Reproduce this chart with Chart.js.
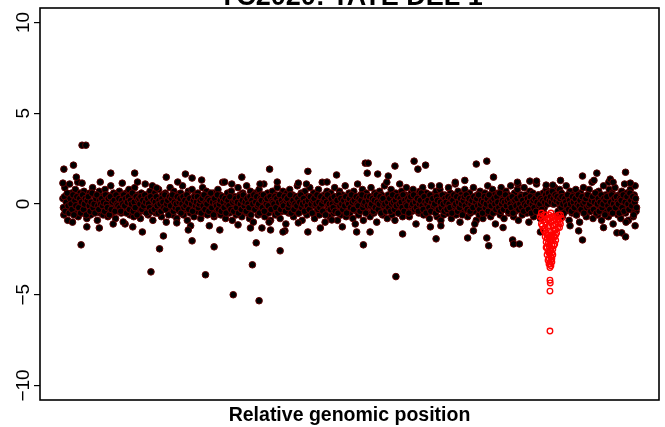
<!DOCTYPE html>
<html>
<head>
<meta charset="utf-8">
<script src="https://cdn.jsdelivr.net/npm/chart.js@4.4.0/dist/chart.umd.min.js"></script>
<style>
html,body{margin:0;padding:0;background:#fff;}
canvas{display:block;}
</style>
</head>
<body>
<canvas id="c" width="665" height="427"></canvas>
<script>
// ---- DATA ----
const chartTitle = 'YC2020: TATE DEL 1';
const xAxisLabel = 'Relative genomic position';
const yTicks = [-10, -5, 0, 5, 10];
const yTickLabels = ['\u221210', '\u22125', '0', '5', '10'];
const yRange = [-10, 10];

// log-ratio of probes in genomic order (position = probe index)
const bandVals = [
 0.3,-0.6,0.9,-0.2,0.5,-0.9,0.1,1.1,-0.4,0.6,-1.0,0.2,-0.5,0.8,-0.1,0.4,-0.7,0.0,0.6,-0.3,
 0.2,-0.5,0.7,-0.1,0.4,-0.8,0.3,-0.3,0.6,-0.6,0.1,0.9,-0.2,0.5,-0.4,0.0,-0.9,0.3,0.7,-0.5,
 -0.1,0.4,-0.6,0.2,0.8,-0.3,0.5,-0.7,0.1,-0.2,1.0,-0.5,0.3,0.6,-0.1,-0.8,0.2,0.4,-0.4,0.7,
 0.0,-0.5,0.5,-0.2,0.3,-1.1,0.6,0.1,-0.4,0.8,-0.6,0.2,-0.1,0.4,-0.7,0.9,0.0,-0.3,0.5,-0.5,
 0.2,-0.8,0.6,-0.1,0.3,-0.4,1.1,-0.2,0.5,-0.6,0.1,0.7,-0.3,0.4,-0.9,0.0,0.6,-0.5,0.2,-0.1,
 0.8,-0.4,0.3,-0.7,0.5,0.1,-0.2,0.6,-1.0,0.4,-0.3,0.2,0.9,-0.5,0.0,-0.6,0.7,0.3,-0.1,-0.8,
 0.5,0.2,-0.4,0.6,-0.2,1.0,-0.6,0.1,0.4,-0.3,-0.9,0.7,0.0,-0.5,0.3,0.8,-0.1,-0.7,0.5,0.2,
 -0.4,0.6,-0.2,0.3,-0.8,0.1,0.9,-0.5,0.4,-0.1,0.7,-0.6,0.2,-1.2,0.5,0.0,-0.3,0.6,-0.7,0.3,
 0.1,-0.4,0.8,-0.2,0.5,-0.6,0.0,1.2,-0.3,0.4,-0.8,0.2,0.6,-0.1,-0.5,0.3,0.7,-0.9,0.1,-0.2,
 0.4,-0.6,0.2,0.9,-0.3,0.5,-0.1,-0.7,0.6,0.0,-0.4,0.3,1.0,-0.5,0.2,-0.8,0.7,-0.2,0.4,-1.0,
 0.0,0.6,-0.3,0.3,-0.6,0.8,-0.1,0.5,-0.4,0.1,1.1,-0.7,0.2,-0.2,0.6,-0.5,0.4,-0.9,0.0,0.7,
 -0.3,0.2,-0.6,0.5,0.9,-0.1,0.4,-0.8,0.1,-0.4,0.7,-0.2,0.3,-1.1,0.6,0.0,-0.5,0.8,-0.3,0.2,
 0.5,-0.7,0.1,0.4,-0.2,1.0,-0.5,0.3,-0.1,0.6,-0.9,0.2,-0.4,0.7,0.0,-0.6,0.4,-0.3,0.9,-0.1,
 0.3,-0.5,0.6,-0.8,0.2,0.0,-0.3,0.8,-0.6,0.4,-0.1,1.2,-0.4,0.5,-1.0,0.1,0.7,-0.2,0.3,-0.7,
 0.6,-0.2,0.1,-0.5,0.9,-0.3,0.4,-0.9,0.2,0.7,-0.1,-0.6,0.5,0.0,-0.4,1.0,-0.7,0.3,-0.2,0.6,
 -0.5,0.4,0.1,-0.8,0.7,-0.2,0.3,-0.4,1.1,-0.6,0.0,0.5,-0.1,0.8,-0.9,0.2,-0.3,0.6,-0.5,0.4,
 0.1,-0.7,0.9,-0.2,0.4,-0.5,0.6,0.0,-1.0,0.3,-0.3,0.7,-0.1,0.5,-0.6,0.2,1.0,-0.4,0.1,-0.8,
 0.5,0.2,-0.3,0.8,-0.6,0.0,0.4,-0.9,0.6,-0.1,0.3,-0.5,1.1,-0.2,0.7,-0.7,0.1,-0.4,0.5,0.9,
 -0.2,0.4,-0.7,0.1,0.6,-0.4,0.8,-0.1,0.3,-1.1,0.5,0.0,-0.5,0.7,-0.3,0.2,0.9,-0.6,0.4,-0.2,
 0.6,-0.5,0.2,-0.8,0.3,1.0,-0.1,0.5,-0.4,0.0,0.7,-0.7,0.1,-0.3,0.8,-0.9,0.4,0.2,-0.6,0.5,
 -0.1,0.3,-0.5,0.9,-0.2,0.6,-0.8,0.1,0.4,-0.3,1.1,-0.6,0.2,0.7,-0.1,-1.0,0.5,0.0,-0.4,0.3,
 0.8,-0.2,0.4,-0.7,0.1,0.6,-0.5,0.3,-0.1,0.9,-0.4,0.2,-0.9,0.5,0.0,-0.6,0.7,-0.3,0.4,-0.8,
 0.2,0.6,-0.1,-0.5,1.0,-0.3,0.4,-0.7,0.1,0.8,-0.2,0.5,-1.1,0.3,-0.4,0.6,0.0,-0.6,0.9,-0.2,
 0.4,-0.8,0.1,0.7,-0.3,0.5,-0.5,0.2,1.0,-0.1,0.3,-0.7,0.6,-0.4,0.0,0.8,-0.9,0.2,-0.2,0.5,
 -0.6,0.3,0.9,-0.1,0.4,-0.5,0.1,-1.0,0.7,-0.3,0.2,0.6,-0.7,0.4,-0.2,1.1,-0.4,0.0,0.5,-0.8,
 0.3,-0.5,0.6,-0.2,0.4,0.8,0.2,0.6,0.1,0.5,0.3,0.7,0.0,0.4,0.9,0.2,0.5,-0.6,0.3,0.8,
 -0.2,0.6,-0.7,0.1,0.4,-0.4,1.0,-0.1,0.3,-0.9,0.7,0.0,-0.5,0.5,0.2,-0.3,0.8,-0.6,0.1,0.4,
 -1.0,0.6,-0.2,0.3,0.9,-0.5,0.1,-0.7,0.5,-0.1,0.8,-0.4,0.2,1.2,-0.8,0.4,-0.3,0.6,0.0,-0.6,
 0.7,-0.2,0.4,-0.9,0.2,1.0,-0.4,0.5,-0.1,0.3,-0.7,0.8,0.0,-0.5,0.6,-1.1,0.2,0.9,-0.3,0.4,
 -0.6,0.5,0.1,-0.8,0.7,-0.2,0.3,1.1,-0.5,0.6,-0.1,-0.9,0.4,0.8,-0.3,0.2,-0.7,0.5,1.0,-0.4
];

// interleaved probes (position = probe index + 0.5)
const bandVals2 = [
 -0.2,0.4,-0.4,0.1,0.6,-0.1,-0.5,0.3,0.0,-0.3,0.5,-0.6,0.2,-0.1,0.4,1.2,-0.2,0.3,-0.5,0.1,
 0.5,-0.3,0.0,0.3,-0.6,0.2,0.4,-0.1,-0.4,0.1,0.6,-0.2,0.0,-0.5,0.3,0.5,-0.1,-0.3,0.2,0.0,
 0.3,-0.1,0.1,-0.4,0.5,0.0,-0.2,0.3,-0.6,0.4,-0.3,0.1,-1.1,0.2,-0.4,0.5,0.0,-0.1,0.3,-0.2,
 -0.4,0.2,0.0,0.5,-0.1,0.3,-0.5,0.1,0.4,-0.3,0.2,0.0,0.6,-0.4,0.1,-0.2,0.4,-0.6,0.2,0.3,
 0.0,0.4,-0.3,0.2,-0.1,0.5,0.1,-0.5,0.3,0.0,-0.2,0.4,-0.4,1.0,0.2,-0.3,0.1,0.4,-0.1,-0.5,
 0.2,0.0,-0.4,0.3,0.1,-0.2,0.5,-0.3,0.0,0.2,-0.6,0.4,-0.1,0.3,0.5,-0.4,0.1,-0.2,0.0,0.4,
 -0.3,0.1,0.3,-0.5,0.0,0.4,-0.2,0.2,-0.1,0.5,0.1,-0.3,0.3,-1.2,0.0,-0.4,0.2,0.4,-0.1,0.1,
 0.4,-0.2,0.0,0.2,-0.5,0.3,-0.1,0.5,-0.3,0.1,0.0,0.3,-0.4,0.2,0.6,-0.2,0.1,-0.6,0.3,0.0,
 -0.1,0.5,-0.3,0.0,0.2,-0.4,0.4,0.1,-0.2,0.3,-0.5,0.0,0.2,-0.1,0.4,-0.3,1.1,0.1,-0.4,0.2,
 0.3,-0.2,0.1,-0.5,0.4,0.0,-0.3,0.2,0.5,-0.1,0.1,-0.4,0.3,0.0,-0.2,0.4,-0.6,0.2,0.0,0.5,
 -0.3,0.1,0.4,-0.1,0.0,-0.5,0.3,0.2,-0.2,0.5,-0.4,0.1,0.0,0.3,-0.1,-1.0,0.4,-0.3,0.2,0.1,
 0.0,0.4,-0.2,0.3,-0.5,0.1,0.5,-0.3,0.2,0.0,-0.1,0.4,-0.4,0.2,0.3,-0.2,0.0,0.5,-0.5,0.1,
 0.2,-0.3,0.0,0.4,-0.1,0.3,-0.5,0.1,0.5,-0.2,0.0,0.3,-0.4,0.1,1.1,-0.1,0.2,-0.3,0.4,0.0,
 -0.5,0.2,0.3,-0.1,0.0,0.5,-0.3,0.1,-0.2,0.4,0.0,-0.4,0.2,0.3,-0.6,0.1,0.5,-0.1,0.0,-0.3,
 0.3,0.0,-0.2,0.4,-0.4,0.1,0.2,-0.5,0.5,-0.1,0.3,0.0,-0.3,0.2,-0.1,0.4,-0.5,0.1,0.0,0.3,
 -0.2,0.5,0.1,-0.3,0.2,-1.1,0.4,0.0,-0.1,0.3,-0.4,0.2,0.5,-0.2,0.0,0.1,-0.5,0.4,-0.1,0.2,
 0.4,-0.1,0.0,0.3,-0.4,0.2,-0.2,0.5,0.1,-0.3,0.0,0.4,-0.5,0.2,0.3,-0.1,0.0,-0.4,1.2,0.1,
 -0.2,0.3,-0.4,0.0,0.5,0.1,-0.3,0.2,-0.1,0.4,-0.5,0.0,0.3,0.1,-0.2,0.5,-0.4,0.2,0.0,-0.1,
 0.3,-0.5,0.2,0.4,-0.1,0.0,0.5,-0.3,0.1,-0.2,0.3,-0.4,0.0,0.2,0.6,-0.1,-0.3,0.4,0.1,-0.5,
 0.0,0.2,-0.2,0.5,-0.4,0.1,0.3,-0.1,0.0,-0.5,0.4,0.2,-0.3,1.0,0.1,-0.2,0.5,0.0,-0.4,0.3,
 0.1,-0.3,0.4,0.0,-0.2,0.3,-0.5,0.2,0.5,-0.1,0.0,0.4,-0.4,0.1,-0.2,0.3,0.0,-0.6,0.2,0.4,
 -0.1,0.5,-0.3,0.1,0.3,-0.4,0.0,0.2,-0.2,0.4,-1.1,0.1,0.3,-0.1,0.5,-0.3,0.0,0.2,-0.5,0.1,
 0.4,-0.2,0.0,0.3,-0.4,0.5,0.1,-0.1,0.2,-0.5,0.3,0.0,-0.3,0.4,0.1,-0.2,0.6,-0.4,0.0,0.2,
 -0.3,0.1,0.5,-0.1,0.2,-0.4,0.3,0.0,-0.2,0.4,-0.5,0.1,0.2,-0.1,0.3,1.1,-0.3,0.0,0.4,-0.2,
 0.2,-0.4,0.0,0.5,-0.1,0.3,-0.3,0.1,0.4,-0.5,0.0,0.2,-0.2,0.3,-0.4,0.1,0.5,-0.1,0.0,0.3,
 -0.3,0.2,-0.5,0.1,0.5,0.3,0.0,0.6,0.2,0.4,0.1,0.7,0.3,0.0,0.5,0.2,0.4,-0.4,0.1,0.3,
 -0.2,0.4,0.0,-0.5,0.3,0.1,-0.1,0.5,-0.3,0.2,0.0,-0.4,0.4,0.1,-0.2,0.3,-0.6,0.0,0.5,-0.1,
 0.2,-0.3,0.4,0.0,-0.5,0.1,0.3,-0.2,0.5,-0.1,0.0,-0.4,0.2,0.4,-0.3,0.1,0.6,-0.5,0.0,0.3,
 -0.4,0.1,0.5,-0.2,0.0,0.3,-0.6,0.2,0.4,-0.1,1.2,-0.3,0.1,0.5,-0.5,0.0,0.3,-0.2,0.4,0.1,
 0.0,-0.5,0.3,0.2,-0.2,0.5,-0.4,0.1,-1.0,0.4,0.0,-0.3,0.6,0.2,-0.1,0.4,-0.6,0.1,0.3,-0.2
];

// outlying (non-deleted) probes: position and value
const outPos = [1,11,14,20,24,50,75,108,128,145,216,256,286,316,319,318,329,340,347,367,
 371,379,432,443,450,488,495,505,512,520,543,558,572,588,593,
 19,92,101,105,135,149,158,178,198,202,205,227,232,256,292,307,314,321,348,355,
 384,390,423,429,443,445,470,471,477,499,539,543,579,584,588,
 25,38,63,73,83,119,131,164,183,196,208,217,230,246,269,281,
 0,20,39,62,78,98,120,135,169,187,206,224,246,276,
 395,410,420,460,475,530,555,565,575,598];
const outVals = [1.92,2.14,1.48,3.24,3.24,1.7,1.7,1.48,1.65,1.32,1.92,1.8,1.6,2.25,2.25,1.7,1.65,1.54,2.09,2.36,
 1.92,2.14,2.2,2.36,1.48,1.26,1.26,1.04,1.04,1.3,1.54,1.7,1.37,1.75,1.15,
 -2.25,-3.74,-2.47,-1.76,-2.03,-3.9,-2.36,-5.0,-3.35,-2.14,-5.33,-2.58,-1.48,-1.54,-1.26,-1.54,-2.25,-1.54,-4.0,-1.65,
 -1.26,-1.92,-1.87,-1.48,-1.87,-2.3,-1.98,-2.2,-2.2,-1.54,-1.48,-1.98,-1.59,-1.59,-1.81,
 -1.26,-1.32,-0.99,-1.26,-1.54,-1.04,-1.43,-1.43,-1.15,-1.32,-1.32,-1.43,-1.54,-1.04,-1.32,-0.88,
 1.15,1.15,1.21,1.15,1.21,0.88,1.21,1.43,1.21,1.48,1.1,1.21,1.15,1.21,
 -1.2,1.2,1.3,-1.3,1.2,-1.2,1.3,-1.3,1.2,-1.2];

// probes inside the deleted region (drawn red)
const delPos = [499,500,501,502,503,504,505,506,507,508,509,510,511,512,513,514,515,516,517,518,519,520,521,
 501,503,506,508,511,514,516,518,505,510,513,500,502,504,507,509,512,515,517,519,520,
 504,505,506,507,508,509,510,511,512,513,514,515,508,510,512,515,507,509,511,505,506,513,514,510,
 506,507,508,509,510,511,512,509,508,510,507,511,508,509,510,511,
 509,509.3,509,509];
const delVals = [-0.7,-1.1,-0.8,-1.4,-0.6,-1.0,-1.6,-0.8,-1.3,-0.6,-1.5,-1.0,-0.7,-1.2,-1.5,-0.8,-1.1,-0.7,-1.3,-0.9,-1.0,-0.6,-0.8,
 -1.2,-1.5,-1.9,-1.2,-1.8,-1.4,-1.6,-0.6,-0.6,-0.5,-0.9,-0.5,-0.9,-1.3,-0.9,-0.8,-0.7,-1.4,-1.0,-1.3,-1.1,
 -1.8,-2.1,-2.4,-2.2,-1.9,-2.6,-2.0,-2.3,-2.5,-1.8,-2.2,-2.0,-2.3,-2.5,-2.0,-1.7,-1.7,-2.1,-1.9,-2.4,-1.7,-2.3,-1.8,-1.7,
 -2.8,-3.1,-2.7,-3.3,-2.9,-3.2,-2.8,-3.5,-3.0,-3.4,-2.6,-2.7,-3.3,-2.7,-3.1,-3.0,
 -4.2,-4.35,-4.8,-7.0];

// ---- CHART ----
const FONT = "'Liberation Sans', Arial, Helvetica, sans-serif";
const span = bandVals.length - 1;
const ySpan = yRange[1] - yRange[0];

const bandData = bandVals.map((v, i) => ({x: i, y: v}))
  .concat(bandVals2.map((v, i) => ({x: i + 0.5, y: v})));
const outData = outPos.map((p, i) => ({x: p, y: outVals[i]}));
const delData = delPos.map((p, i) => ({x: p, y: delVals[i]}));

const blackPt = {
  pointRadius: 3.3, pointBorderWidth: 1,
  pointBackgroundColor: '#000', pointBorderColor: 'rgb(95,0,0)',
  showLine: false
};

const decor = {
  id: 'decor',
  beforeDraw(chart) {
    const ctx = chart.ctx;
    ctx.save();
    ctx.fillStyle = '#fff';
    ctx.fillRect(0, 0, chart.width, chart.height);
    ctx.restore();
  },
  afterDraw(chart) {
    const ctx = chart.ctx;
    const a = chart.chartArea;
    const ys = chart.scales.y;
    ctx.save();
    ctx.strokeStyle = '#000';
    ctx.lineWidth = 1.6;
    ctx.strokeRect(a.left, a.top, a.right - a.left, a.bottom - a.top);
    ctx.fillStyle = '#000';
    ctx.font = "19px " + FONT;
    ctx.textAlign = 'center';
    ctx.textBaseline = 'alphabetic';
    yTicks.forEach((v, i) => {
      const py = ys.getPixelForValue(v);
      ctx.save();
      ctx.translate(a.left - 11, py);
      ctx.rotate(-Math.PI / 2);
      ctx.fillText(yTickLabels[i], 0, 0);
      ctx.restore();
    });
    ctx.font = "bold 19.5px " + FONT;
    ctx.fillText(xAxisLabel, (a.left + a.right) / 2, a.bottom + 21);
    ctx.font = "bold 27px " + FONT;
    ctx.fillText(chartTitle, (a.left + a.right) / 2 + 1, a.top - 3);
    ctx.restore();
  }
};

new Chart(document.getElementById('c'), {
  type: 'scatter',
  data: {
    datasets: [
      {
        label: 'deleted',
        data: delData,
        order: 0,
        pointRadius: 2.8, pointBorderWidth: 1.3,
        pointBackgroundColor: 'rgba(255,255,255,0)', pointBorderColor: '#ff0000',
        showLine: false
      },
      Object.assign({label: 'outliers', data: outData, order: 1}, blackPt),
      Object.assign({label: 'probes', data: bandData, order: 2}, blackPt)
    ]
  },
  options: {
    responsive: false,
    devicePixelRatio: 1,
    animation: false,
    events: [],
    layout: {padding: {left: 0, top: 8, right: 6, bottom: 27}},
    plugins: {legend: {display: false}, tooltip: {enabled: false}, title: {display: false}},
    scales: {
      x: {
        type: 'linear',
        display: false,
        min: -0.04 * span,
        max: span * 1.04
      },
      y: {
        type: 'linear',
        min: yRange[0] - 0.04 * ySpan,
        max: yRange[1] + 0.04 * ySpan,
        afterFit: s => { s.width = 40; },
        afterBuildTicks: s => { s.ticks = yTicks.map(v => ({value: v})); },
        ticks: {display: false},
        grid: {drawOnChartArea: false, drawTicks: true, tickLength: 6, color: '#000', lineWidth: 1.2},
        border: {display: false}
      }
    }
  },
  plugins: [decor]
});
</script>
</body>
</html>
